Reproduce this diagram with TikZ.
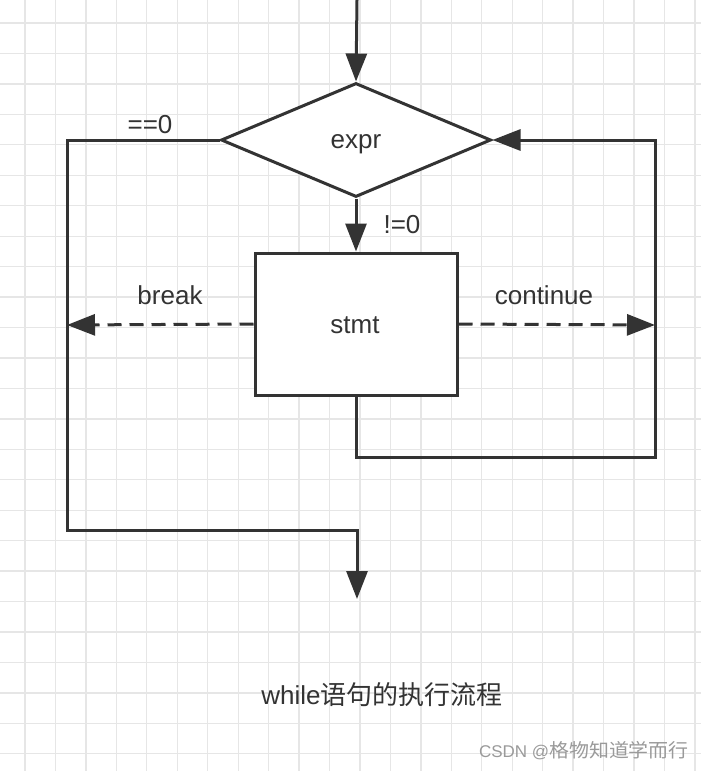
\documentclass[tikz,border=0pt]{standalone}
\usepackage{fontspec}
\usepackage{graphicx}
\setmainfont{Liberation Sans}
\newfontfamily\cjk{Noto Sans CJK SC}
\usetikzlibrary{shapes.geometric,arrows.meta}
\definecolor{ink}{HTML}{333333}
\definecolor{gridc}{HTML}{E6E6E6}
\definecolor{wm}{HTML}{9A9A9A}
\tikzset{
  ln/.style={draw=ink, line width=3pt},
  arr/.style={ln, -{Triangle[length=28pt,width=21pt]}},
  dsh/.style={dash pattern=on 14pt off 8pt},
  lbl/.style={text=ink, font=\fontsize{26}{30}\selectfont, inner sep=0pt},
  dec/.style={ln, diamond, fill=white, minimum width=270pt, minimum height=114pt, inner sep=0pt, aspect=2.37},
  box/.style={ln, rectangle, fill=white, minimum width=202pt, minimum height=142pt, inner sep=0pt}
}
\begin{document}
\begin{tikzpicture}[x=1pt,y=-1pt]
\useasboundingbox (0,0) rectangle (701,771);
\fill[white] (0,0) rectangle (701,771);
\foreach \i in {0,...,22} \draw[gridc, line width=1.3pt] (25+\i*30.45,0) -- (25+\i*30.45,771);
\foreach \j in {0,...,24} \draw[gridc, line width=1.3pt] (0,23+\j*30.45) -- (701,23+\j*30.45);

\node[dec] (d) at (356,140) {};
\node[lbl, anchor=base] (dt) at (356,148) {expr};
\node[box] (r) at (356,324) {};
\node[lbl, anchor=base] (rt) at (355,333) {stmt};

\coordinate (top) at (357,0);
\coordinate (bl) at (67,530);
\coordinate (endp) at (357,599);
\coordinate (bk) at (67,325);
\coordinate (ct) at (655,325);
\coordinate (lp) at (655,457);

\draw[arr] (top) -- (d.north);
\draw[arr] (d.south) -- (r.north);
\draw[arr] (d.west) -| (bl) -| (endp);
\draw[arr, dsh] (r.west) -- (bk);
\draw[arr, dsh] (r.east) -- (ct);
\draw[arr] (r.south) |- (lp) |- (d.east);

\node[lbl] (l0) at (150,125) {==0};
\node[lbl] (l1) at (402,225) {!=0};
\node[lbl] (l2) at (170,295) {break};
\node[lbl] (l3) at (544,295) {continue};
\node[lbl] (cap) at (382,695) {while{\cjk 语句的执行流程}};
\node[text=wm, font=\fontsize{17}{20}\selectfont, inner sep=0pt, anchor=base east] (wmk) at (689,757) {CSDN @\scalebox{1.05}[1]{\fontsize{19}{20}\selectfont\cjk 格物知道学而行}};
\end{tikzpicture}
\end{document}
